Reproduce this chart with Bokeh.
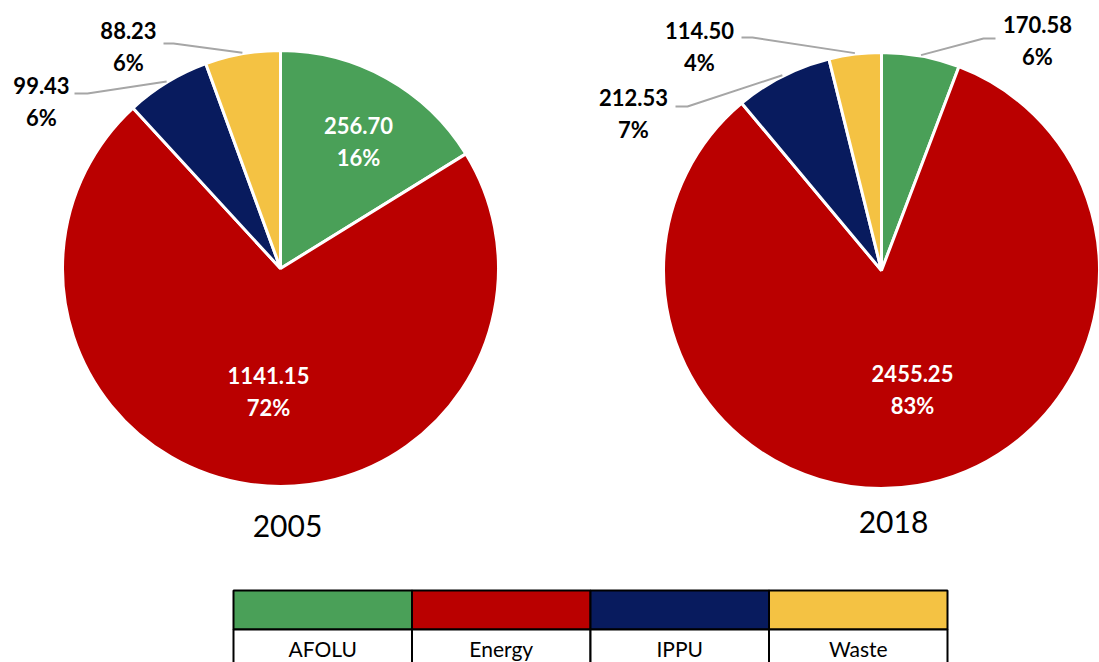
import numpy as np
from bokeh.plotting import figure
from bokeh.models import Range1d, ColumnDataSource
from bokeh.core.properties import value
from bokeh.embed import file_html
from bokeh.resources import INLINE

# ---------------- data ----------------
categories = ["AFOLU", "Energy", "IPPU", "Waste"]
values_2005 = [256.70, 1141.15, 99.43, 88.23]
values_2018 = [170.58, 2455.25, 212.53, 114.50]
years = ["2005", "2018"]
colors = ["#4aa058", "#ba0000", "#081b5e", "#f4c243"]

# ---------------- layout (image pixel coords) ----------------
W, H = 1099, 662
def X(xi):
    return xi
def Y(yi):
    return H - yi

pies = [
    dict(vals=values_2005, cx=280, cy=268, r=218, title=(287, 525),
         labels=[(358, 141, "white"), (268, 391, "white"), (41, 101, "black"), (128, 46, "black")],
         leaders={2: [(74, 93), (87, 93)], 3: [(163, 43), (173, 43)]}),
    dict(vals=values_2018, cx=881, cy=270, r=218, title=(893, 521),
         labels=[(1037, 40, "black"), (912, 389, "white"), (633, 113, "black"), (699, 46, "black")],
         leaders={0: [(995, 38), (983, 38)], 2: [(675, 106), (687, 106)], 3: [(741, 37), (752, 37)]}),
]

p = figure(width=W, height=H, x_range=Range1d(0, W), y_range=Range1d(0, H),
           output_backend="svg", toolbar_location=None, min_border=0,
           x_axis_location=None, y_axis_location=None)
p.outline_line_color = None
p.grid.visible = False
p.background_fill_color = "white"

LABEL_FONT = value("Lato")

for pie, year in zip(pies, years):
    vals = np.array(pie["vals"], dtype=float)
    total = vals.sum()
    frac = vals / total
    cum_end = np.cumsum(frac)
    cum_start = cum_end - frac
    # clockwise from 12 o'clock
    start = np.pi / 2 - cum_end * 2 * np.pi
    end = np.pi / 2 - cum_start * 2 * np.pi
    src = ColumnDataSource(dict(x=[X(pie["cx"])] * 4, y=[Y(pie["cy"])] * 4,
                                start=start, end=end, color=colors, cat=categories))
    p.wedge(x="x", y="y", radius=pie["r"], start_angle="start", end_angle="end",
            direction="anticlock", fill_color="color", line_color="white",
            line_width=3, source=src)

    mid = (cum_start + cum_end) / 2 * 2 * np.pi  # clockwise from top
    for i, (lx, ly, col) in enumerate(pie["labels"]):
        pct = f"{round(vals[i] / total * 100):d}%"
        p.text(x=[X(lx)], y=[Y(ly - 16)], text=[f"{vals[i]:.2f}"],
               text_font=LABEL_FONT, text_font_style="bold", text_font_size="22px",
               text_color=col, text_align="center", text_baseline="middle")
        p.text(x=[X(lx)], y=[Y(ly + 16)], text=[pct],
               text_font=LABEL_FONT, text_font_style="bold", text_font_size="22px",
               text_color=col, text_align="center", text_baseline="middle")
        if i in pie["leaders"]:
            pts = pie["leaders"][i]
            ex = pie["cx"] + (pie["r"] + 1) * np.sin(mid[i])
            ey = pie["cy"] - (pie["r"] + 1) * np.cos(mid[i])
            xs = [X(pts[0][0]), X(pts[1][0]), X(ex)]
            ys = [Y(pts[0][1]), Y(pts[1][1]), Y(ey)]
            p.line(xs, ys, line_color="#a6a6a6", line_width=2)

    p.text(x=[X(pie["title"][0])], y=[Y(pie["title"][1])], text=[year],
           text_font=LABEL_FONT, text_font_size="30px", text_color="black",
           text_align="center", text_baseline="middle")

# ---------------- legend table ----------------
lx0, lx1 = 233, 947
cw = (lx1 - lx0) / len(categories)
left = [X(lx0 + i * cw) for i in range(len(categories))]
right = [X(lx0 + (i + 1) * cw) for i in range(len(categories))]
p.quad(left=left, right=right, top=[Y(590)] * 4, bottom=[Y(629)] * 4,
       fill_color=colors, line_color="black", line_width=2)
p.quad(left=left, right=right, top=[Y(629)] * 4, bottom=[Y(700)] * 4,
       fill_color="white", line_color="black", line_width=2)
p.text(x=[(l + r) / 2 for l, r in zip(left, right)], y=[Y(648)] * 4, text=categories,
       text_font=LABEL_FONT, text_font_size="21px", text_color="black",
       text_align="center", text_baseline="middle")

open("out.html", "w").write(file_html(p, INLINE))
